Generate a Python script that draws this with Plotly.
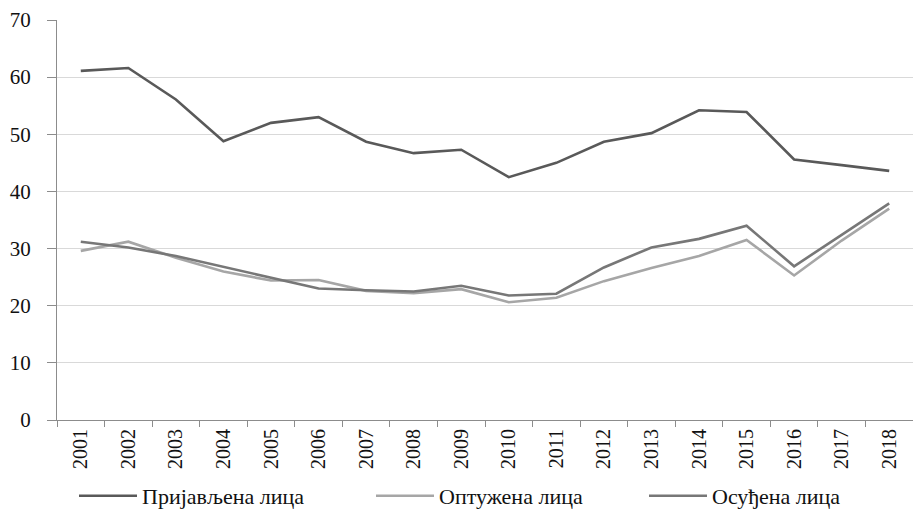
import plotly.graph_objects as go

years = [str(y) for y in range(2001, 2019)]
prijavljena = [61.1, 61.6, 56.1, 48.8, 52.0, 53.0, 48.7, 46.7, 47.3, 42.5, 45.0, 48.7, 50.2, 54.2, 53.9, 45.6, 44.6, 43.6]
optuzena = [29.6, 31.2, 28.4, 26.0, 24.4, 24.5, 22.6, 22.2, 22.9, 20.6, 21.4, 24.3, 26.6, 28.7, 31.5, 25.3, 31.4, 37.0]
osudjena = [31.2, 30.2, 28.7, 26.8, 24.9, 23.0, 22.7, 22.5, 23.5, 21.8, 22.1, 26.7, 30.2, 31.7, 34.0, 26.9, 32.4, 37.9]
names = ["Пријављена лица", "Оптужена лица", "Осуђена лица"]
y_ticks = [0, 10, 20, 30, 40, 50, 60, 70]

W, H = 913, 509
FONT = "Liberation Serif"

fig = go.Figure()
series = [
    (prijavljena, names[0], "#595959", "legend"),
    (optuzena, names[1], "#a6a6a6", "legend2"),
    (osudjena, names[2], "#777777", "legend3"),
]
for vals, nm, col, lg in series:
    fig.add_trace(go.Scatter(
        x=years, y=vals, name=nm, mode="lines",
        line=dict(color=col, width=2.6),
        legend=lg, hoverinfo="skip",
    ))

def leg(px_x, px_y):
    return dict(
        x=px_x / W, y=1 - px_y / H, xref="container", yref="container",
        xanchor="left", yanchor="middle", orientation="h",
        font=dict(family=FONT, size=22, color="#111111"),
        bgcolor="rgba(0,0,0,0)", borderwidth=0, itemwidth=58,
    )

fig.update_layout(
    width=W, height=H,
    margin=dict(l=57, r=0, t=20, b=89, autoexpand=False),
    paper_bgcolor="white", plot_bgcolor="white",
    showlegend=True,
    legend=leg(74, 496),
    legend2=leg(371, 496),
    legend3=leg(644, 496),
    xaxis=dict(
        type="category", range=[-0.5, 17.5], automargin=False,
        showgrid=False, showline=True, linecolor="#8c8c8c", linewidth=1,
        ticks="outside", tickson="boundaries", ticklen=6, tickcolor="#8c8c8c",
        tickangle=-90, tickfont=dict(family=FONT, size=20, color="#111111"),
        fixedrange=True,
    ),
    yaxis=dict(
        range=[0, 70], tickvals=y_ticks, ticktext=[str(v) for v in y_ticks],
        automargin=False,
        showgrid=True, gridcolor="#d9d9d9", gridwidth=1, zeroline=False,
        showline=True, linecolor="#8c8c8c", linewidth=1,
        ticks="outside", ticklen=9, tickcolor="#8c8c8c",
        tickfont=dict(family=FONT, size=21, color="#111111"),
        ticklabelstandoff=12,
        fixedrange=True,
    ),
)

fig.write_html(
    "out.html",
    config={"displayModeBar": False, "staticPlot": True},
    post_script="document.body.style.margin='0';document.body.style.padding='0';"
                "document.documentElement.style.overflow='hidden';",
)
